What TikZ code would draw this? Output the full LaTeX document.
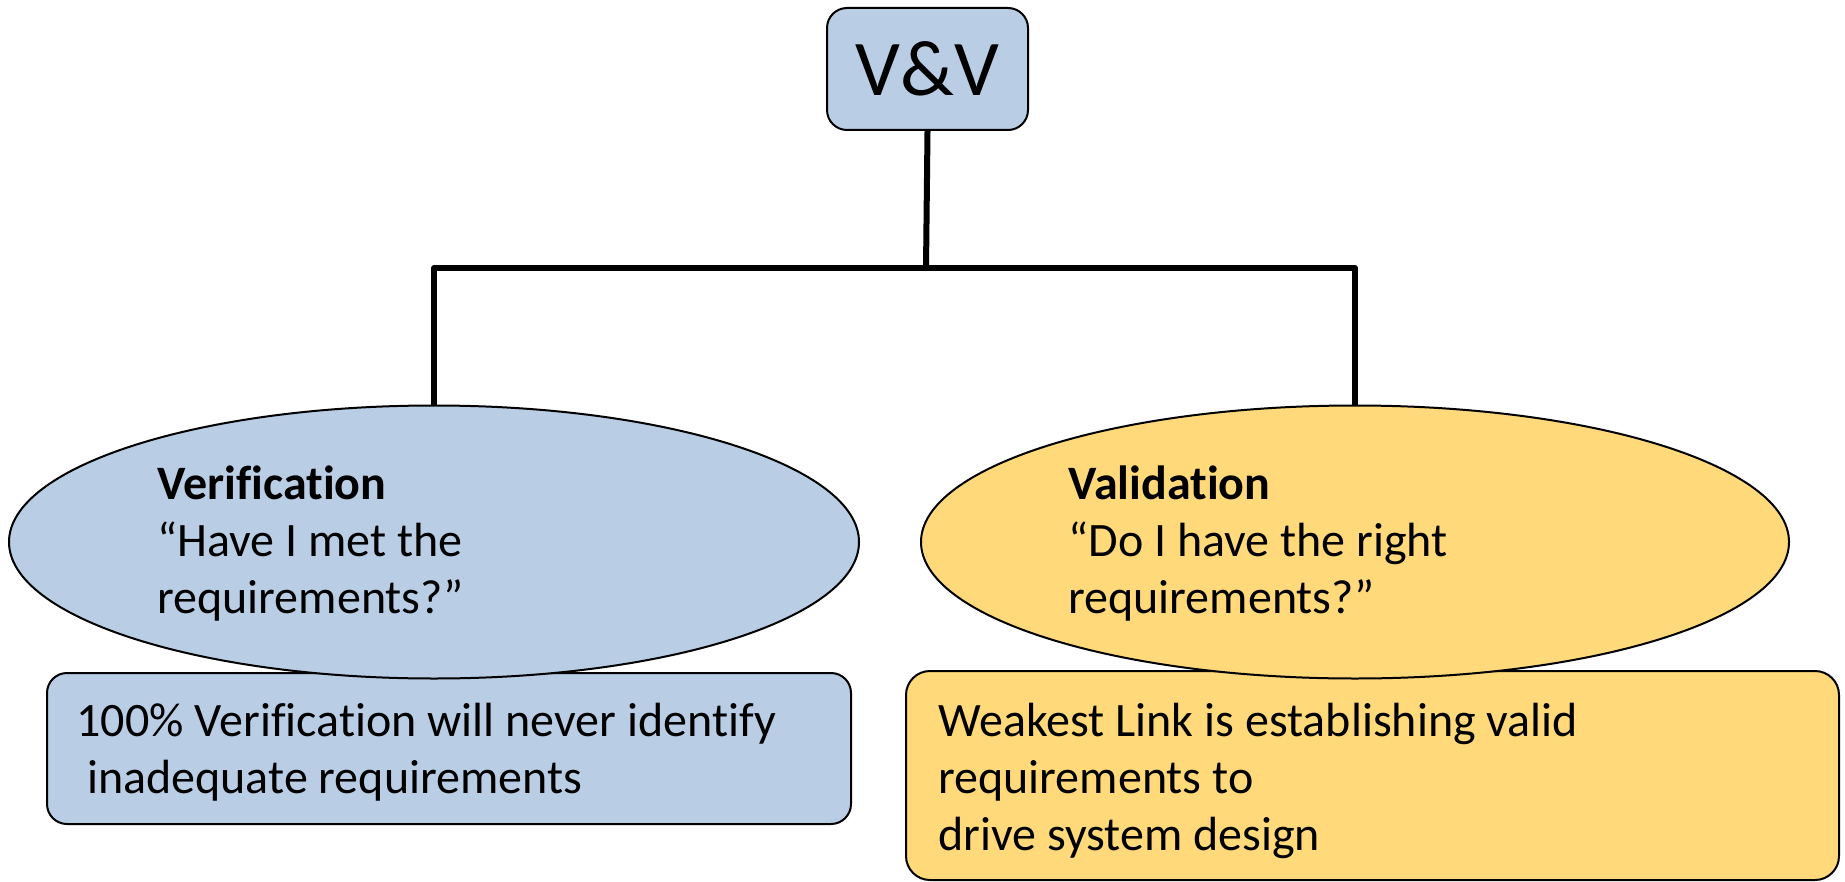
\documentclass[tikz,border=0pt]{standalone}
\usepackage{fontspec}
\setmainfont[Ligatures=NoCommon]{Carlito}
\usetikzlibrary{shapes.geometric}

\definecolor{vvblue}{HTML}{B9CDE5}
\definecolor{vvgold}{HTML}{FFD97A}

\begin{document}
\begin{tikzpicture}[x=0.5pt,y=-0.5pt,line join=round,
  rootbox/.style={draw,line width=1pt,rounded corners=10pt,fill=vvblue,inner sep=0pt,
    minimum width=100.5pt,minimum height=61pt,font=\fontsize{39.5}{46}\selectfont},
  oval/.style={ellipse,draw,line width=1pt,inner sep=0pt},
  notebox/.style={draw,line width=1pt,inner sep=0pt},
  words/.style={anchor=base west,align=left,inner sep=0pt,
    font=\fontsize{24}{28.5}\selectfont},
  tree/.style={line width=3pt}]
  \useasboundingbox (0,0) rectangle (1845,882);

  % root and the bus below it
  \node[rootbox] (vv) at (927.5,69) {V\&V};
  \coordinate (bus) at (926,268);

  % notes sit under the ovals
  \node[notebox,rounded corners=10pt,fill=vvblue,minimum width=402pt,minimum height=75.5pt]
    (vernote) at (449,748.5) {};
  \node[notebox,rounded corners=12pt,fill=vvgold,minimum width=466.5pt,minimum height=104.5pt]
    (valnote) at (1372.5,775.5) {};

  % the two branches
  \node[oval,fill=vvblue,minimum width=425pt,minimum height=136.5pt] (ver) at (434,542) {};
  \node[oval,fill=vvgold,minimum width=434pt,minimum height=136.5pt] (val) at (1355,542) {};

  \draw[tree] (vv.south) -- (bus);
  \draw[tree] (bus) -| (ver.north);
  \draw[tree] (bus) -| (val.north);

  % texts (base west = baseline of the last line)
  \node[words] (vertext) at (157,613) {\textbf{Verification}\\``Have I met the\\requirements?''};
  \node[words] (valtext) at (1068,613) {\textbf{Validation}\\``Do I have the right\\requirements?''};
  \node[words] (vernotetext) at (76,793) {100\% Verification will never identify\\\ inadequate requirements};
  \node[words] (valnotetext) at (938,850) {Weakest Link is establishing valid\\requirements to\\drive system design};
\end{tikzpicture}
\end{document}
